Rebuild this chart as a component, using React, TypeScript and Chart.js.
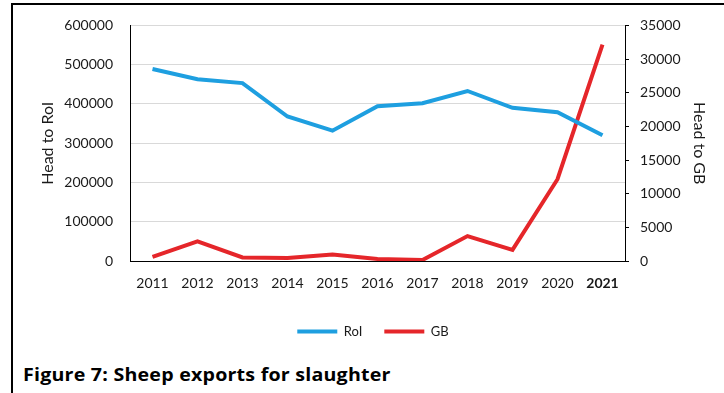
import React, { useEffect, useRef } from 'react';
import { Chart, registerables } from 'chart.js';
Chart.register(...registerables);

const years = ['2011', '2012', '2013', '2014', '2015', '2016', '2017', '2018', '2019', '2020', '2021'];
const roiValues = [489000, 463000, 453000, 368000, 332000, 394000, 402000, 433000, 390000, 379000, 320000];
const gbValues = [600, 2900, 520, 450, 950, 300, 150, 3700, 1650, 12150, 32150];
const leftMax = 600000;
const leftStep = 100000;
const rightMax = 35000;
const rightStep = 5000;
const boldCategory = '2021';

const FONT = 'Lato, "Open Sans", sans-serif';
const TEXT = '#1a1a1a';

export default function App() {
  const ref = useRef<HTMLCanvasElement | null>(null);
  useEffect(() => {
    if (!ref.current) return;
    const chart = new Chart(ref.current, {
      type: 'line',
      data: {
        labels: years,
        datasets: [
          {
            label: 'RoI',
            data: roiValues,
            borderColor: '#1E9FE0',
            backgroundColor: '#1E9FE0',
            borderWidth: 4,
            pointRadius: 0,
            tension: 0,
            yAxisID: 'y',
            pointStyle: 'line',
          },
          {
            label: 'GB',
            data: gbValues,
            borderColor: '#E5262A',
            backgroundColor: '#E5262A',
            borderWidth: 4,
            pointRadius: 0,
            tension: 0,
            yAxisID: 'y1',
            pointStyle: 'line',
          },
        ],
      },
      options: {
        animation: false,
        responsive: false,
        maintainAspectRatio: false,
        layout: { padding: { top: 24, left: 22, right: 0, bottom: 0 } },
        plugins: {
          tooltip: { enabled: false },
          legend: {
            position: 'bottom',
            labels: {
              usePointStyle: true,
              pointStyleWidth: 40,
              padding: 22,
              color: TEXT,
              font: { family: FONT, size: 13 },
            },
          },
        },
        scales: {
          x: {
            offset: true,
            grid: { display: false, drawTicks: false },
            border: { display: true, color: '#000', width: 1 },
            ticks: {
              padding: 14,
              color: TEXT,
              font: (ctx: any) => ({
                family: FONT,
                size: 14,
                weight: years[ctx.index] === boldCategory ? 'bold' : 'normal',
              }),
            },
            afterFit: (s: any) => {
              s.height = 42;
            },
          },
          y: {
            position: 'left',
            min: 0,
            max: leftMax,
            ticks: {
              stepSize: leftStep,
              padding: 17,
              color: TEXT,
              font: { family: FONT, size: 14 },
              callback: (v: any) => String(v),
            },
            grid: { color: '#d9d9d9', lineWidth: 1, drawTicks: false },
            border: { display: true, color: '#000', width: 1 },
            title: {
              display: true,
              text: 'Head to RoI',
              color: TEXT,
              font: { family: FONT, size: 16 },
              padding: { top: 16, bottom: 0 },
            },
            afterFit: (s: any) => {
              s.width = 108;
            },
          },
          y1: {
            position: 'right',
            min: 0,
            max: rightMax,
            ticks: {
              stepSize: rightStep,
              padding: 11,
              color: TEXT,
              font: { family: FONT, size: 14 },
              callback: (v: any) => String(v),
            },
            grid: { drawOnChartArea: false, drawTicks: true, tickLength: 4, color: '#000' },
            border: { display: true, color: '#000', width: 1 },
            title: {
              display: true,
              text: 'Head to GB',
              color: TEXT,
              font: { family: FONT, size: 16 },
              padding: { top: 15, bottom: 0 },
            },
            afterFit: (s: any) => {
              s.width = 99;
            },
          },
        },
      },
    });
    return () => chart.destroy();
  }, []);

  return (
    <div style={{ position: 'absolute', left: 0, top: 0, width: 724, height: 393, background: '#fff', overflow: 'hidden' }}>
      <div
        style={{
          position: 'absolute',
          left: 11,
          top: 3,
          right: 0,
          bottom: 0,
          borderTop: '2px solid #000',
          borderLeft: '2px solid #000',
        }}
      />
      <canvas ref={ref} width={724} height={348} style={{ position: 'absolute', left: 0, top: 0 }} />
      <div
        style={{
          position: 'absolute',
          left: 23,
          top: 365,
          fontFamily: '"Open Sans", sans-serif',
          fontWeight: 'bold',
          fontSize: 18,
          letterSpacing: '0.2px',
          lineHeight: '18px',
          color: '#000',
          whiteSpace: 'nowrap',
          transform: 'scaleX(1.09)',
          transformOrigin: 'left center',
        }}
      >
        Figure 7: Sheep exports for slaughter
      </div>
    </div>
  );
}
